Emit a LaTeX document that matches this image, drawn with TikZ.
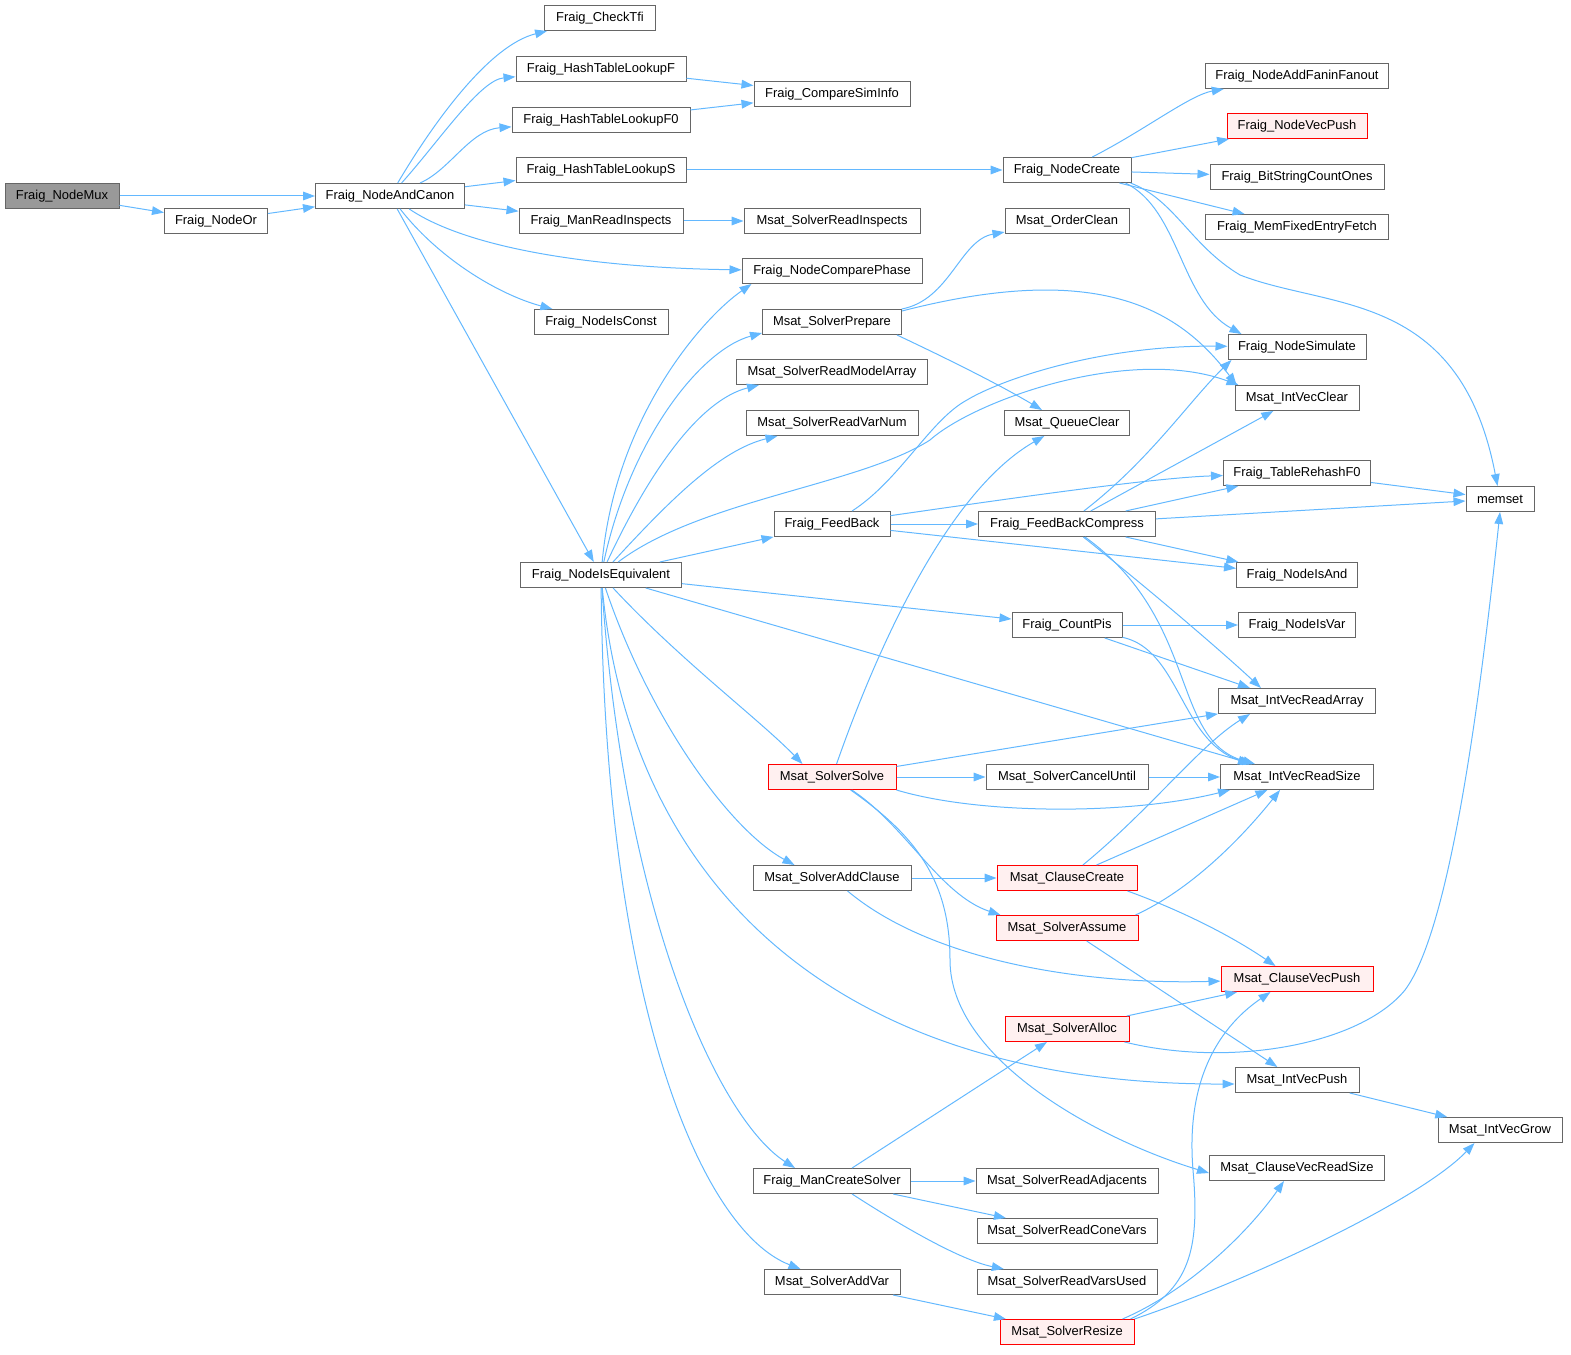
\documentclass[tikz,border=0pt]{standalone}
\usepackage{fontspec}
\setmainfont{Liberation Sans}
\usetikzlibrary{arrows.meta}
\newlength\pxu \setlength\pxu{0.75pt}
\definecolor{edgec}{HTML}{63B8FF}
\definecolor{nborder}{HTML}{666666}
\definecolor{rborder}{HTML}{FF0000}
\definecolor{rfill}{HTML}{FFF0F0}
\definecolor{gfill}{HTML}{999999}
\tikzset{
  fn/.style={draw=nborder, line width=0.75pt, fill=white, rectangle, minimum height=25\pxu,
    inner xsep=1pt, inner ysep=0pt, font=\fontsize{9.7}{11}\selectfont},
  rn/.style={fn, draw=rborder, fill=rfill},
  gn/.style={fn, fill=gfill},
  e/.style={draw=edgec, line width=0.75pt, -{Triangle[length=9pt,width=6.5pt]}}
}
\begin{document}
\begin{tikzpicture}[x=0.75pt,y=-0.75pt]
\useasboundingbox (0,0) rectangle (1571,1355);
% column 0-2
\node[gn, minimum width=114\pxu] (mux) at (62,196) {Fraig\_NodeMux};
\node[fn, minimum width=103\pxu] (or) at (216,221) {Fraig\_NodeOr};
\node[fn, minimum width=149\pxu] (andcanon) at (390,196) {Fraig\_NodeAndCanon};
% column 3
\node[fn, minimum width=111\pxu] (checktfi) at (600,18) {Fraig\_CheckTfi};
\node[fn, minimum width=170\pxu] (hashF) at (601,69) {Fraig\_HashTableLookupF};
\node[fn, minimum width=178\pxu] (hashF0) at (601,120) {Fraig\_HashTableLookupF0};
\node[fn, minimum width=170\pxu] (hashS) at (601,170) {Fraig\_HashTableLookupS};
\node[fn, minimum width=164\pxu] (manReadInspects) at (601,221) {Fraig\_ManReadInspects};
\node[fn, minimum width=134\pxu] (nodeIsConst) at (601,322) {Fraig\_NodeIsConst};
\node[fn, minimum width=161\pxu] (isEquiv) at (601,575) {Fraig\_NodeIsEquivalent};
% column 4
\node[fn, minimum width=156\pxu] (compareSimInfo) at (832,94) {Fraig\_CompareSimInfo};
\node[fn, minimum width=176\pxu] (solverReadInspects) at (832,221) {Msat\_SolverReadInspects};
\node[fn, minimum width=180\pxu] (comparePhase) at (832,271) {Fraig\_NodeComparePhase};
\node[fn, minimum width=139\pxu] (solverPrepare) at (832,322) {Msat\_SolverPrepare};
\node[fn, minimum width=191\pxu] (readModelArray) at (832,372) {Msat\_SolverReadModelArray};
\node[fn, minimum width=172\pxu] (readVarNum) at (832,423) {Msat\_SolverReadVarNum};
\node[fn, minimum width=116\pxu] (feedBack) at (832,524) {Fraig\_FeedBack};
\node[rn, minimum width=128\pxu] (solverSolve) at (832,777) {Msat\_SolverSolve};
\node[fn, minimum width=158\pxu] (solverAddClause) at (832,878) {Msat\_SolverAddClause};
\node[fn, minimum width=157\pxu] (manCreateSolver) at (832,1181) {Fraig\_ManCreateSolver};
\node[fn, minimum width=136\pxu] (solverAddVar) at (832,1282) {Msat\_SolverAddVar};
% column 5
\node[fn, minimum width=128\pxu] (nodeCreate) at (1067,170) {Fraig\_NodeCreate};
\node[fn, minimum width=124\pxu] (orderClean) at (1067,221) {Msat\_OrderClean};
\node[fn, minimum width=125\pxu] (queueClear) at (1067,423) {Msat\_QueueClear};
\node[fn, minimum width=177\pxu] (feedBackCompress) at (1067,524) {Fraig\_FeedBackCompress};
\node[fn, minimum width=110\pxu] (countPis) at (1067,625) {Fraig\_CountPis};
\node[fn, minimum width=162\pxu] (cancelUntil) at (1067,777) {Msat\_SolverCancelUntil};
\node[rn, minimum width=140\pxu] (clauseCreate) at (1067,878) {Msat\_ClauseCreate};
\node[rn, minimum width=142\pxu] (solverAssume) at (1067,928) {Msat\_SolverAssume};
\node[rn, minimum width=124\pxu] (solverAlloc) at (1067,1029) {Msat\_SolverAlloc};
\node[fn, minimum width=182\pxu] (readAdjacents) at (1067,1181) {Msat\_SolverReadAdjacents};
\node[fn, minimum width=180\pxu] (readConeVars) at (1067,1231) {Msat\_SolverReadConeVars};
\node[fn, minimum width=180\pxu] (readVarsUsed) at (1067,1282) {Msat\_SolverReadVarsUsed};
\node[rn, minimum width=134\pxu] (solverResize) at (1067,1332) {Msat\_SolverResize};
% column 6
\node[fn, minimum width=183\pxu] (addFanin) at (1297,76) {Fraig\_NodeAddFaninFanout};
\node[rn, minimum width=140\pxu] (nodeVecPush) at (1297,126) {Fraig\_NodeVecPush};
\node[fn, minimum width=174\pxu] (bitString) at (1297,177) {Fraig\_BitStringCountOnes};
\node[fn, minimum width=183\pxu] (memFixed) at (1297,227) {Fraig\_MemFixedEntryFetch};
\node[fn, minimum width=138\pxu] (nodeSimulate) at (1297,347) {Fraig\_NodeSimulate};
\node[fn, minimum width=124\pxu] (intVecClear) at (1297,398) {Msat\_IntVecClear};
\node[fn, minimum width=147\pxu] (tableRehash) at (1297,473) {Fraig\_TableRehashF0};
\node[fn, minimum width=121\pxu] (nodeIsAnd) at (1297,575) {Fraig\_NodeIsAnd};
\node[fn, minimum width=117\pxu] (nodeIsVar) at (1297,625) {Fraig\_NodeIsVar};
\node[fn, minimum width=157\pxu] (intVecReadArray) at (1297,701) {Msat\_IntVecReadArray};
\node[fn, minimum width=153\pxu] (intVecReadSize) at (1297,777) {Msat\_IntVecReadSize};
\node[rn, minimum width=152\pxu] (clauseVecPush) at (1297,979) {Msat\_ClauseVecPush};
\node[fn, minimum width=124\pxu] (intVecPush) at (1297,1080) {Msat\_IntVecPush};
\node[fn, minimum width=175\pxu] (clauseVecReadSize) at (1297,1168) {Msat\_ClauseVecReadSize};
% column 7
\node[fn, minimum width=68\pxu] (memset) at (1500,499) {memset};
\node[fn, minimum width=124\pxu] (intVecGrow) at (1500,1130) {Msat\_IntVecGrow};

% ---------- edges
\draw[e] (mux) -- (andcanon);
\draw[e] (mux) -- (or);
\draw[e] (or) -- (andcanon);
\draw[e] (andcanon) .. controls (435,120) and (490,45) .. (checktfi);
\draw[e] (andcanon) .. controls (440,140) and (480,80) .. (hashF);
\draw[e] (andcanon) .. controls (450,170) and (470,130) .. (hashF0);
\draw[e] (andcanon) -- (hashS);
\draw[e] (andcanon) -- (manReadInspects);
\draw[e] (andcanon) .. controls (470,250) and (600,268) .. (comparePhase);
\draw[e] (andcanon) .. controls (440,260) and (500,295) .. (nodeIsConst);
\draw[e] (andcanon) -- (isEquiv);
\draw[e] (hashF) -- (compareSimInfo);
\draw[e] (hashF0) -- (compareSimInfo);
\draw[e] (hashS) -- (nodeCreate);
\draw[e] (manReadInspects) -- (solverReadInspects);
% NodeCreate
\draw[e] (nodeCreate) .. controls (1145,130) and (1190,95) .. (addFanin);
\draw[e] (nodeCreate) -- (nodeVecPush);
\draw[e] (nodeCreate) -- (bitString);
\draw[e] (nodeCreate) -- (memFixed);
\draw[e] ([xshift=-6\pxu]nodeCreate.south east) .. controls (1180,210) and (1180,300) .. ([xshift=14\pxu]nodeSimulate.north west);
\draw[e] ([xshift=-1\pxu]nodeCreate.south east) .. controls (1175,200) and (1190,245) .. (1240,275) .. controls (1330,310) and (1460,290) .. (memset);
% NodeIsEquivalent upward
\draw[e] (isEquiv) .. controls (615,420) and (700,320) .. ([xshift=10\pxu]comparePhase.south west);
\draw[e] (isEquiv) .. controls (630,440) and (700,350) .. ([yshift=2\pxu]solverPrepare.south west);
\draw[e] (isEquiv) .. controls (650,470) and (700,400) .. ([xshift=23\pxu]readModelArray.south west);
\draw[e] (isEquiv) .. controls (670,500) and (720,450) .. ([xshift=32\pxu]readVarNum.south west);
\draw[e] (isEquiv) .. controls (700,500) and (860,485) .. (930,440) .. controls (975,400) and (1130,345) .. ([xshift=4\pxu]intVecClear.north west);
\draw[e] (isEquiv) -- (feedBack);
\draw[e] (isEquiv) -- (countPis);
\draw[e] (isEquiv) -- (intVecReadSize);
% NodeIsEquivalent downward
\draw[e] (isEquiv) .. controls (680,660) and (760,720) .. ([xshift=35\pxu]solverSolve.north west);
\draw[e] (isEquiv) .. controls (650,720) and (730,830) .. ([xshift=42\pxu]solverAddClause.north west);
\draw[e] (isEquiv) .. controls (630,880) and (830,1085) .. ([yshift=-4\pxu]intVecPush.west);
\draw[e] (isEquiv) .. controls (625,920) and (720,1120) .. ([xshift=42\pxu]manCreateSolver.north west);
\draw[e] (isEquiv) .. controls (605,1000) and (700,1230) .. ([xshift=37\pxu]solverAddVar.north west);
% SolverPrepare
\draw[e] (solverPrepare) .. controls (950,300) and (960,240) .. (orderClean);
\draw[e] ([yshift=-2\pxu]solverPrepare.north east) .. controls (1100,260) and (1180,310) .. ([xshift=2\pxu]intVecClear.north west);
\draw[e] ([xshift=-5\pxu]solverPrepare.south east) .. controls (950,360) and (1000,385) .. ([xshift=-25\pxu]queueClear.north);
% FeedBack
\draw[e] (feedBack) .. controls (900,480) and (930,420) .. (967,400) .. controls (1000,380) and (1100,345) .. (nodeSimulate);
\draw[e] (feedBack) .. controls (1000,500) and (1150,478) .. (tableRehash);
\draw[e] (feedBack) -- (feedBackCompress);
\draw[e] (feedBack) -- (nodeIsAnd);
% FeedBackCompress
\draw[e] (feedBackCompress) .. controls (1150,460) and (1190,400) .. ([xshift=4\pxu]nodeSimulate.south west);
\draw[e] (feedBackCompress) -- (intVecClear);
\draw[e] (feedBackCompress) -- (tableRehash);
\draw[e] (feedBackCompress) -- (memset);
\draw[e] (feedBackCompress) -- (nodeIsAnd);
\draw[e] (feedBackCompress) .. controls (1150,590) and (1220,650) .. ([xshift=43\pxu]intVecReadArray.north west);
\draw[e] (feedBackCompress) .. controls (1200,620) and (1170,740) .. ([xshift=35\pxu]intVecReadSize.north west);
% CountPis
\draw[e] (countPis) -- (nodeIsVar);
\draw[e] (countPis) -- ([xshift=32\pxu]intVecReadArray.north west);
\draw[e] (countPis) .. controls (1180,650) and (1180,740) .. ([xshift=30\pxu]intVecReadSize.north west);
% TableRehash
\draw[e] (tableRehash) -- (memset);
% SolverSolve
\draw[e] (solverSolve) .. controls (880,640) and (950,490) .. (queueClear);
\draw[e] (solverSolve) -- (intVecReadArray);
\draw[e] (solverSolve) -- (cancelUntil);
\draw[e] (solverSolve.south east) .. controls (980,815) and (1130,815) .. ([xshift=10\pxu]intVecReadSize.south west);
\draw[e] (solverSolve) .. controls (905,825) and (940,895) .. ([xshift=5\pxu]solverAssume.north west);
\draw[e] (solverSolve) .. controls (915,835) and (950,880) .. (950,960) .. controls (950,1060) and (1100,1140) .. ([yshift=-5\pxu]clauseVecReadSize.west);
\draw[e] (cancelUntil) -- (intVecReadSize);
% SolverAddClause
\draw[e] (solverAddClause) -- (clauseCreate);
\draw[e] (solverAddClause) .. controls (930,960) and (1080,985) .. (clauseVecPush);
% ClauseCreate
\draw[e] (clauseCreate) .. controls (1150,810) and (1200,745) .. ([xshift=32\pxu]intVecReadArray.south west);
\draw[e] (clauseCreate) -- (intVecReadSize);
\draw[e] ([xshift=-10\pxu]clauseCreate.south east) .. controls (1180,910) and (1230,935) .. ([xshift=55\pxu]clauseVecPush.north west);
% SolverAssume
\draw[e] ([xshift=-3\pxu]solverAssume.north east) .. controls (1190,890) and (1240,840) .. ([xshift=60\pxu]intVecReadSize.south west);
\draw[e] (solverAssume) -- (intVecPush);
% SolverAlloc
\draw[e] (solverAlloc) -- (clauseVecPush);
\draw[e] ([xshift=-5\pxu]solverAlloc.south east) .. controls (1230,1068) and (1360,1045) .. (1405,990) .. controls (1450,930) and (1480,700) .. (memset.south);
% IntVecPush
\draw[e] (intVecPush) -- (intVecGrow);
% ManCreateSolver
\draw[e] (manCreateSolver) -- (solverAlloc);
\draw[e] (manCreateSolver) -- (readAdjacents);
\draw[e] (manCreateSolver) -- (readConeVars);
\draw[e] (manCreateSolver) .. controls (900,1225) and (960,1260) .. (readVarsUsed);
% SolverAddVar
\draw[e] (solverAddVar) -- (solverResize);
% SolverResize
\draw[e] ([xshift=-4\pxu]solverResize.north east) .. controls (1190,1290) and (1200,1250) .. (1193,1170) .. controls (1186,1085) and (1215,1030) .. ([xshift=50\pxu]clauseVecPush.south west);
\draw[e] ([xshift=-12\pxu]solverResize.north east) .. controls (1190,1290) and (1250,1230) .. ([xshift=75\pxu]clauseVecReadSize.south west);
\draw[e] (solverResize.north east) .. controls (1250,1280) and (1420,1200) .. ([xshift=37\pxu]intVecGrow.south west);
\end{tikzpicture}
\end{document}
